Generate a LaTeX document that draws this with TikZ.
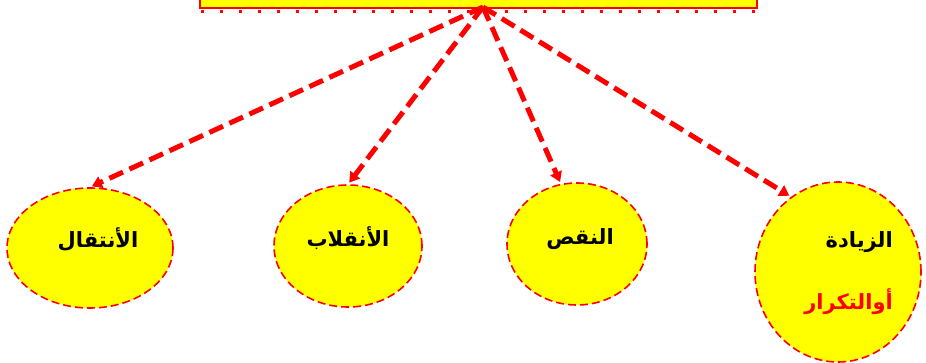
\documentclass[tikz,border=0pt]{standalone}
\usepackage{fontspec}
\usepackage{tikz}
\usetikzlibrary{arrows.meta,shapes.geometric}
\newfontfamily\arabicfont[Script=Arabic]{DejaVu Sans}
\TeXXeTstate=1
\definecolor{sun}{RGB}{255,255,0}
\definecolor{flame}{RGB}{255,0,0}
\newcommand{\ar}[1]{{\arabicfont\bfseries\beginR #1\endR}}

\begin{document}
\begin{tikzpicture}[
  x=1pt, y=-1pt,
  blob/.style={ellipse,draw=flame,dash pattern=on 8pt off 4pt,line width=1.6pt,
    fill=sun,inner sep=0pt},
  word/.style={font=\fontsize{21}{24}\selectfont,inner sep=0pt},
  link/.style={flame,line width=5pt,dash pattern=on 15pt off 7pt,
    -{Triangle[length=10pt,width=12pt]},shorten >=2pt}
]
\useasboundingbox (0,0) rectangle (926,363);
% top box, cut by the page
\node[fill=sun,draw=flame,line width=1.6pt,minimum width=557pt,
  minimum height=24pt,inner sep=0pt] (top) at (478.5,-4) {};
\draw[flame,line width=3pt,dash pattern=on 3pt off 16pt] (201,12) -- (757,12);
\coordinate (src) at (483,7);

% the four parts
\node[blob,minimum width=166pt,minimum height=120pt] (intql) at (90,248) {};
\node[blob,minimum width=148pt,minimum height=122pt] (inqlb) at (348,246) {};
\node[blob,minimum width=140pt,minimum height=122pt] (nqs) at (577,244) {};
\node[blob,minimum width=166pt,minimum height=180pt] (zyd) at (838,272) {};

\node[word] (intqlT) at (98,240) {\ar{الأنتقال}};
\node[word] (inqlbT) at (348,238) {\ar{الأنقلاب}};
\node[word] (nqsT) at (580,239) {\ar{النقص}};
\node[word,anchor=east] (zydA) at (893,242) {\ar{الزيادة}};
\node[word,anchor=east,text=flame] (zydB) at (893,302) {\ar{أوالتكرار}};

\draw[link] (src) -- (intql.north);
\draw[link] (src) -- (inqlb.north);
\draw[link] (src) -- (nqs.105);
\draw[link] (src) -- (zyd.122);
\end{tikzpicture}
\end{document}
